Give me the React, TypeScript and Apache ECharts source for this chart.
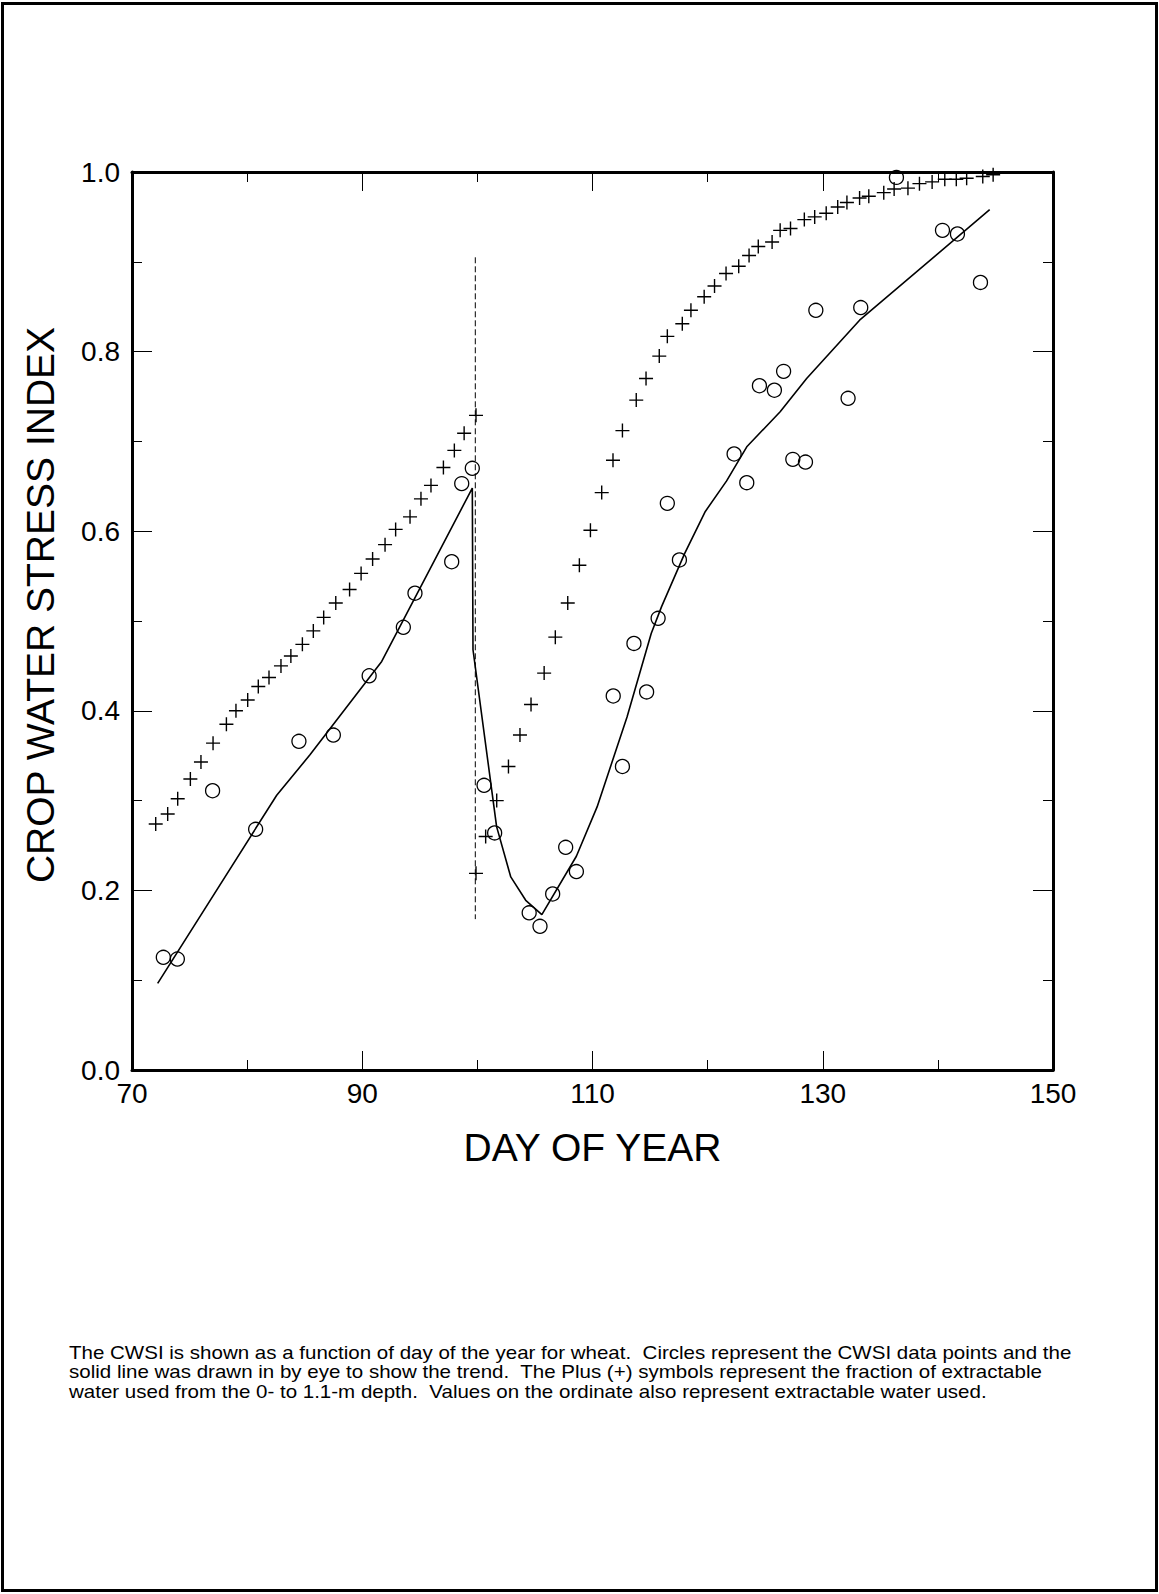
import React, { useEffect, useRef } from "react";
import * as echarts from "echarts";

const xTicks = [70, 90, 110, 130, 150];
const yTicks = [0, 0.2, 0.4, 0.6, 0.8, 1.0];

const plusDays = [
  72.06, 73.1, 73.97, 75.07, 75.99, 77.04, 78.2, 79.03, 80.05, 80.97, 81.9, 82.94, 83.8, 84.8, 85.75,
  86.65, 87.7, 88.9, 89.9, 90.9, 91.98, 92.9, 94.15, 95.1, 95.97, 97.05, 98.0, 98.85, 99.88,
  99.88, 100.72, 101.68, 102.7, 103.7, 104.66, 105.8, 106.77, 107.85, 108.86, 109.82, 110.8, 111.78,
  112.6, 113.8, 114.65, 115.8, 116.5, 117.8, 118.55, 119.7, 120.6, 121.6, 122.7, 123.6, 124.4, 125.6,
  126.3, 127.2, 128.4, 129.3, 130.3, 131.3, 132.1, 133.2, 134.0, 135.3, 136.2, 137.4, 138.4, 139.5,
  140.6, 141.6, 142.5, 143.9, 144.8,
];
const plusValues = [
  0.274, 0.285, 0.302, 0.324, 0.343, 0.364, 0.385, 0.4, 0.412, 0.427, 0.437, 0.45, 0.461, 0.474, 0.489,
  0.504, 0.52, 0.535, 0.553, 0.569, 0.585, 0.602, 0.616, 0.636, 0.651, 0.671, 0.69, 0.709, 0.729,
  0.219, 0.26, 0.3, 0.338, 0.373, 0.407, 0.442, 0.482, 0.52, 0.562, 0.601, 0.643, 0.679,
  0.712, 0.746, 0.77, 0.795, 0.817, 0.831, 0.846, 0.861, 0.873, 0.887, 0.895, 0.907, 0.917, 0.922,
  0.935, 0.937, 0.947, 0.95, 0.954, 0.961, 0.966, 0.971, 0.973, 0.977, 0.981, 0.982, 0.987, 0.989,
  0.992, 0.992, 0.993, 0.995, 0.997,
];

const cwsiDays = [
  72.72, 73.94, 77.0, 80.74, 84.5, 87.49, 90.6, 93.57, 94.58, 97.77, 98.64, 99.56, 100.58, 101.5,
  104.5, 105.44, 106.54, 107.67, 108.6, 111.8, 112.6, 113.6, 114.7, 115.7, 116.5, 117.55, 122.3,
  123.4, 124.5, 125.8, 126.6, 127.4, 128.5, 129.4, 132.2, 133.3, 136.4, 140.4, 141.7, 143.7,
];
const cwsiValues = [
  0.1255, 0.1236, 0.311, 0.268, 0.366, 0.373, 0.439, 0.493, 0.531, 0.566, 0.653, 0.67, 0.317, 0.264,
  0.175, 0.16, 0.196, 0.248, 0.221, 0.4165, 0.338, 0.475, 0.421, 0.503, 0.631, 0.568, 0.686,
  0.654, 0.762, 0.757, 0.778, 0.68, 0.677, 0.846, 0.748, 0.849, 0.994, 0.935, 0.931, 0.877,
];

const trendDays = [
  72.23, 82.57, 85.46, 91.69, 99.56, 99.62, 101.67, 102.9, 104.2, 105.6, 108.6, 110.4, 113.0, 115.1,
  116.0, 118.0, 119.8, 121.65, 123.4, 126.3, 128.6, 133.2, 144.5,
];
const trendValues = [
  0.0965, 0.306, 0.351, 0.455, 0.648, 0.468, 0.271, 0.215, 0.189, 0.173, 0.238, 0.293, 0.393, 0.486,
  0.516, 0.575, 0.622, 0.656, 0.694, 0.733, 0.77, 0.835, 0.958,
];

const irrigationDays = [99.82, 99.82];
const irrigationValues = [0.905, 0.168];

const captionLines = [
  "The CWSI is shown as a function of day of the year for wheat.  Circles represent the CWSI data points and the",
  "solid line was drawn in by eye to show the trend.  The Plus (+) symbols represent the fraction of extractable",
  "water used from the 0- to 1.1-m depth.  Values on the ordinate also represent extractable water used.",
];

const FONT = "'Liberation Sans', Arial, Helvetica, sans-serif";
const PLUS = "path://M5.4,0H6.6V5.4H12V6.6H6.6V12H5.4V6.6H0V5.4H5.4Z";

export default function App() {
  const ref = useRef<HTMLDivElement>(null);
  useEffect(() => {
    if (!ref.current) return;
    const chart = echarts.init(ref.current, null, { renderer: "svg" });
    const axisCommon = {
      type: "value" as const,
      min: 70,
      max: 150,
      interval: 20,
      splitLine: { show: false },
      axisLine: { show: true, onZero: false, lineStyle: { color: "#000", width: 3 } },
      axisTick: { show: true, inside: true, length: 19, lineStyle: { color: "#000", width: 1 } },
      minorTick: { show: true, splitNumber: 2, length: 10, lineStyle: { color: "#000", width: 1 } },
    };
    const yCommon = {
      type: "value" as const,
      min: 0,
      max: 1,
      interval: 0.2,
      splitLine: { show: false },
      axisLine: { show: true, onZero: false, lineStyle: { color: "#000", width: 3 } },
      axisTick: { show: true, inside: true, length: 20, lineStyle: { color: "#000", width: 1 } },
      minorTick: { show: true, splitNumber: 2, length: 10, lineStyle: { color: "#000", width: 1 } },
    };
    chart.setOption({
      animation: false,
      backgroundColor: "#fff",
      textStyle: { fontFamily: FONT },
      grid: { left: 132, top: 172, width: 921, height: 898, containLabel: false },
      xAxis: [
        {
          ...axisCommon,
          position: "bottom",
          axisLabel: {
            color: "#000",
            fontSize: 28,
            fontFamily: FONT,
            margin: 9,
            formatter: (v: number) => (xTicks.includes(v) ? String(v) : ""),
          },
          name: "DAY OF YEAR",
          nameLocation: "middle",
          nameGap: 58,
          nameTextStyle: { color: "#000", fontSize: 39, fontFamily: FONT },
        },
        { ...axisCommon, position: "top", axisLabel: { show: false } },
      ],
      yAxis: [
        {
          ...yCommon,
          position: "left",
          axisLabel: {
            color: "#000",
            fontSize: 28,
            fontFamily: FONT,
            margin: 12,
            formatter: (v: number) =>
              yTicks.some((t) => Math.abs(t - v) < 1e-6) ? v.toFixed(1) : "",
          },
          name: "CROP WATER STRESS INDEX",
          nameLocation: "middle",
          nameGap: 72,
          nameRotate: 90,
          nameTextStyle: { color: "#000", fontSize: 39, fontFamily: FONT, padding: [0, 0, 0, 32] },
        },
        { ...yCommon, position: "right", axisLabel: { show: false } },
      ],
      series: [
        {
          type: "line",
          name: "Irrigation",
          data: irrigationDays.map((d, i) => [d, irrigationValues[i]]),
          showSymbol: false,
          symbol: "none",
          lineStyle: { color: "#000", width: 1, type: [6, 3] },
          silent: true,
          z: 1,
        },
        {
          type: "line",
          name: "Trend",
          data: trendDays.map((d, i) => [d, trendValues[i]]),
          showSymbol: false,
          symbol: "none",
          lineStyle: { color: "#000", width: 1.6 },
          silent: true,
          z: 2,
        },
        {
          type: "scatter",
          name: "Extractable water used",
          data: plusDays.map((d, i) => [d, plusValues[i]]),
          symbol: PLUS,
          symbolSize: 14,
          itemStyle: { color: "#000", opacity: 1 },
          z: 3,
        },
        {
          type: "scatter",
          name: "CWSI",
          data: cwsiDays.map((d, i) => [d, cwsiValues[i]]),
          symbol: "circle",
          symbolSize: 14,
          itemStyle: { color: "rgba(255,255,255,0)", borderColor: "#000", borderWidth: 1.3, opacity: 1 },
          z: 4,
        },
      ],
      graphic: [
        {
          type: "rect",
          shape: { x: 2.5, y: 3.5, width: 1154, height: 1587 },
          style: { fill: "none", stroke: "#000", lineWidth: 3 },
          silent: true,
        },
        ...captionLines.map((line, i) => ({
          type: "text",
          x: 69,
          y: 1344 + i * 19.3,
          scaleX: 1.14,
          style: {
            text: line,
            fill: "#000",
            font: `18px ${FONT}`,
            textAlign: "left",
            textVerticalAlign: "top",
          },
          silent: true,
        })),
      ],
    });
    return () => chart.dispose();
  }, []);
  return (
    <div
      ref={ref}
      style={{ position: "fixed", left: 0, top: 0, width: 1159, height: 1594, background: "#fff" }}
    />
  );
}
